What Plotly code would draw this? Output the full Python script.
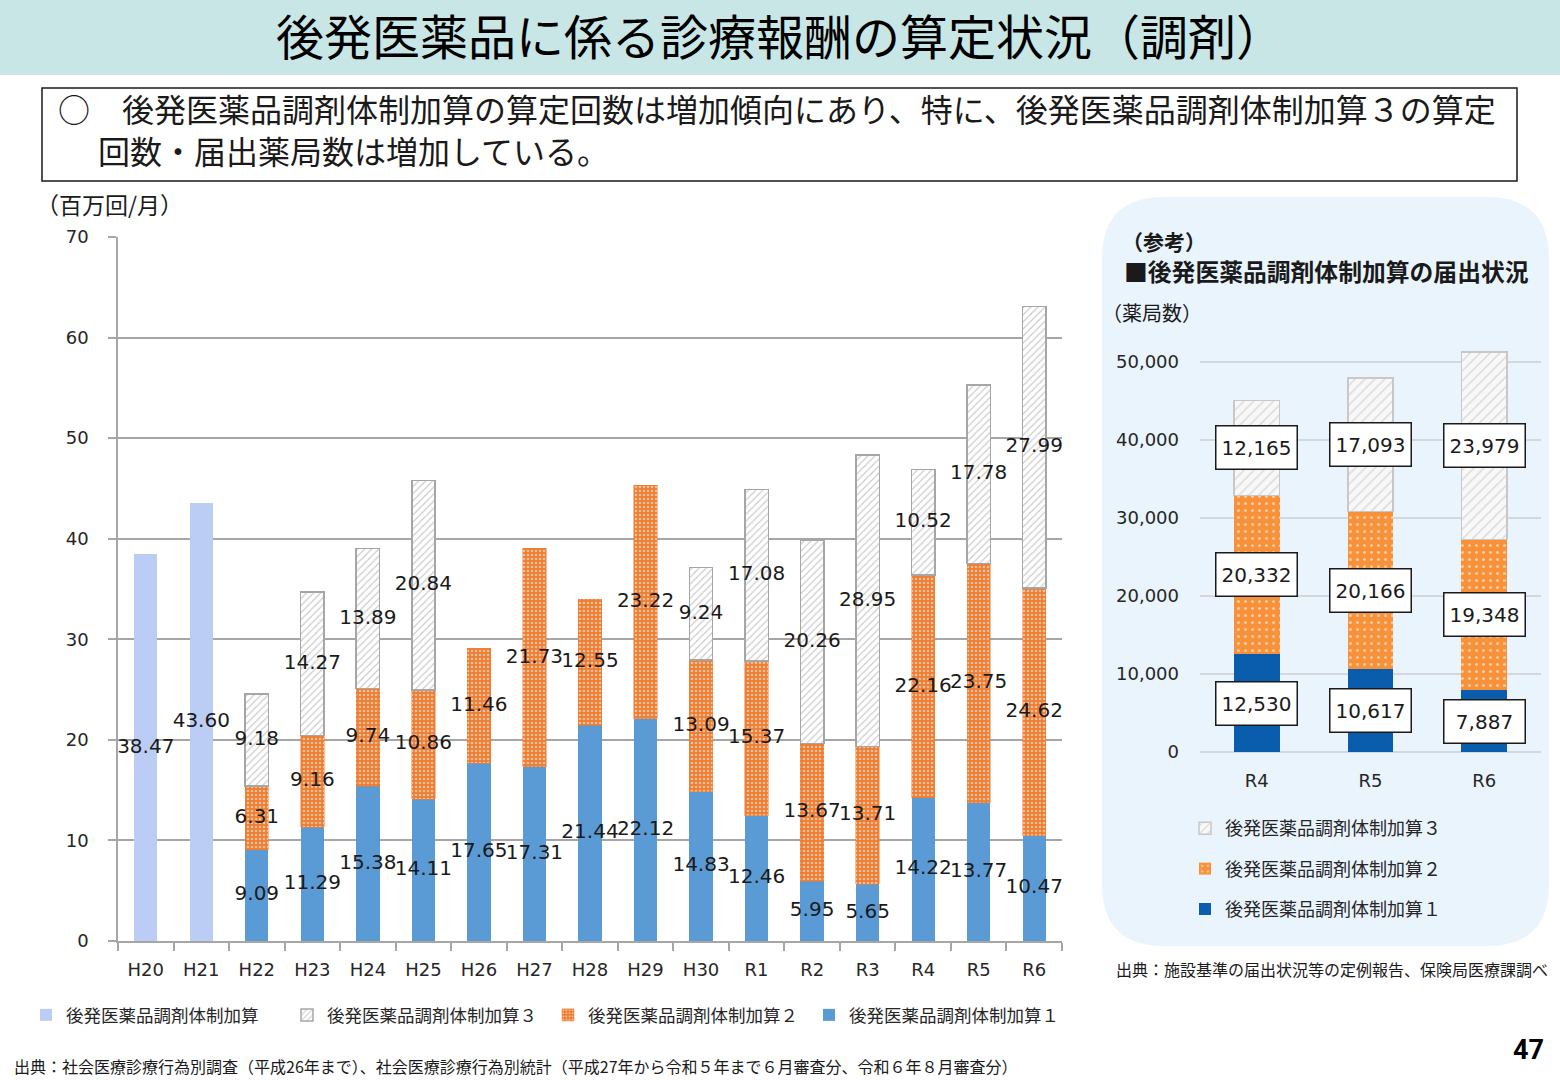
import plotly.graph_objects as go
import numpy as np

# ---------------- data ----------------
categories = ["H20", "H21", "H22", "H23", "H24", "H25", "H26", "H27", "H28",
              "H29", "H30", "R1", "R2", "R3", "R4", "R5", "R6"]
kasan_old = [38.47, 43.60] + [None] * 15
kasan1 = [None, None, 9.09, 11.29, 15.38, 14.11, 17.65, 17.31, 21.44, 22.12,
          14.83, 12.46, 5.95, 5.65, 14.22, 13.77, 10.47]
kasan2 = [None, None, 6.31, 9.16, 9.74, 10.86, 11.46, 21.73, 12.55, 23.22,
          13.09, 15.37, 13.67, 13.71, 22.16, 23.75, 24.62]
kasan3 = [None, None, 9.18, 14.27, 13.89, 20.84, None, None, None, None,
          9.24, 17.08, 20.26, 28.95, 10.52, 17.78, 27.99]

ref_categories = ["R4", "R5", "R6"]
ref1 = [12530, 10617, 7887]
ref2 = [20332, 20166, 19348]
ref3 = [12165, 17093, 23979]

main_yticks = [0, 10, 20, 30, 40, 50, 60, 70]
ref_yticks = [0, 10000, 20000, 30000, 40000, 50000]

name_old = "後発医薬品調剤体制加算"
name1 = "後発医薬品調剤体制加算１"
name2 = "後発医薬品調剤体制加算２"
name3 = "後発医薬品調剤体制加算３"

W, H = 1560, 1080
JP = "Noto Sans CJK JP"
NUM = "DejaVu Sans, Noto Sans CJK JP"


def px_x(x):
    return x / W


def px_y(y):
    return 1 - y / H


def nz(a):
    return np.array([0 if v is None else v for v in a], dtype=float)


fig = go.Figure()

# ---------------- main chart bars ----------------
BW = 0.42
fig.add_trace(go.Bar(x=categories, y=kasan_old, name=name_old, width=BW,
                     marker=dict(color="#bccdf5", line=dict(width=0)),
                     legendrank=1, legend="legend"))
fig.add_trace(go.Bar(x=categories, y=kasan1, name=name1, width=BW,
                     marker=dict(color="#5b9bd5", line=dict(width=0)),
                     legendrank=4, legend="legend"))
fig.add_trace(go.Bar(x=categories, y=kasan2, name=name2, width=BW,
                     marker=dict(color="#ed7d31", line=dict(width=0.5, color="#ed7d31"),
                                 pattern=dict(shape=".", fgcolor="#ffffff", bgcolor="#ed7d31",
                                              size=4, solidity=0.35, fillmode="overlay")),
                     legendrank=3, legend="legend"))
fig.add_trace(go.Bar(x=categories, y=kasan3, name=name3, width=BW,
                     marker=dict(color="#ffffff", line=dict(width=1.5, color="#a6a6a6"),
                                 pattern=dict(shape="/", fgcolor="#9a9a9a", bgcolor="#ffffff",
                                              size=5, solidity=0.25, fillmode="overlay")),
                     legendrank=2, legend="legend"))

# data labels (centred in each segment)
a0, a1, a2, a3 = nz(kasan_old), nz(kasan1), nz(kasan2), nz(kasan3)
lab_x, lab_y, lab_t = [], [], []
for i, c in enumerate(categories):
    if kasan_old[i] is not None:
        lab_x.append(c); lab_y.append(a0[i] / 2); lab_t.append(f"{kasan_old[i]:.2f}")
    if kasan1[i] is not None:
        lab_x.append(c); lab_y.append(a1[i] / 2); lab_t.append(f"{kasan1[i]:.2f}")
    if kasan2[i] is not None:
        lab_x.append(c); lab_y.append(a1[i] + a2[i] / 2); lab_t.append(f"{kasan2[i]:.2f}")
    if kasan3[i] is not None:
        lab_x.append(c); lab_y.append(a1[i] + a2[i] + a3[i] / 2); lab_t.append(f"{kasan3[i]:.2f}")
fig.add_trace(go.Scatter(x=lab_x, y=lab_y, text=lab_t, mode="text", showlegend=False,
                         textfont=dict(family=NUM, size=20, color="#1a1a1a"),
                         cliponaxis=False, hoverinfo="skip"))

# ---------------- reference chart bars ----------------
RBW = 0.4
fig.add_trace(go.Bar(x=ref_categories, y=ref1, name=name1, width=RBW, xaxis="x2", yaxis="y2",
                     marker=dict(color="#0a5cad", line=dict(width=0)),
                     legend="legend2", legendgroup="r1", legendrank=3))
fig.add_trace(go.Bar(x=ref_categories, y=ref2, name=name2, width=RBW, xaxis="x2", yaxis="y2",
                     marker=dict(color="#f7923a", line=dict(width=0),
                                 pattern=dict(shape=".", fgcolor="#ffffff", bgcolor="#f7923a",
                                              size=7, solidity=0.15, fillmode="overlay")),
                     legend="legend2", legendgroup="r2", legendrank=2))
fig.add_trace(go.Bar(x=ref_categories, y=ref3, name=name3, width=RBW, xaxis="x2", yaxis="y2",
                     marker=dict(color="#f4f4f4", line=dict(width=1.5, color="#c8c8c8"),
                                 pattern=dict(shape="/", fgcolor="#b8b8b8", bgcolor="#f8f8f8",
                                              size=7, solidity=0.2, fillmode="overlay")),
                     legend="legend2", legendgroup="r3", legendrank=1))

r1, r2, r3 = np.array(ref1, float), np.array(ref2, float), np.array(ref3, float)
annotations = []
for i, c in enumerate(ref_categories):
    for yv, val in [(r1[i] / 2, ref1[i]), (r1[i] + r2[i] / 2, ref2[i]),
                    (r1[i] + r2[i] + r3[i] / 2, ref3[i])]:
        annotations.append(dict(x=c, y=yv, xref="x2", yref="y2", text=f"{val:,}",
                                showarrow=False, font=dict(family=NUM, size=20, color="#1a1a1a"),
                                bgcolor="#ffffff", bordercolor="#1a1a1a", borderwidth=1.5,
                                borderpad=3, width=74, height=36))

# ---------------- shapes ----------------
shapes = []
# title banner
shapes.append(dict(type="rect", xref="paper", yref="paper", x0=0, x1=1,
                   y0=px_y(75), y1=1, fillcolor="#c9e6e6", line=dict(width=0), layer="below"))
# summary box
shapes.append(dict(type="rect", xref="paper", yref="paper", x0=px_x(42), x1=px_x(1517),
                   y0=px_y(181), y1=px_y(88), fillcolor="rgba(0,0,0,0)",
                   line=dict(color="#1a1a1a", width=1.5)))


# rounded background of the reference panel
def rounded_path(x0, y0, x1, y1, r):
    X = lambda v: f"{px_x(v):.5f}"
    Y = lambda v: f"{px_y(v):.5f}"
    return (f"M {X(x0 + r)} {Y(y0)} L {X(x1 - r)} {Y(y0)} "
            f"Q {X(x1)} {Y(y0)} {X(x1)} {Y(y0 + r)} L {X(x1)} {Y(y1 - r)} "
            f"Q {X(x1)} {Y(y1)} {X(x1 - r)} {Y(y1)} L {X(x0 + r)} {Y(y1)} "
            f"Q {X(x0)} {Y(y1)} {X(x0)} {Y(y1 - r)} L {X(x0)} {Y(y0 + r)} "
            f"Q {X(x0)} {Y(y0)} {X(x0 + r)} {Y(y0)} Z")


shapes.append(dict(type="path", xref="paper", yref="paper",
                   path=rounded_path(1102, 197, 1549, 946, 62),
                   fillcolor="#eaf4fd", line=dict(width=0), layer="below"))

# ---------------- text annotations ----------------
def txt(x, y, s, size, xanchor="left", bold=False, family=JP, color="#1a1a1a", align="left"):
    return dict(x=px_x(x), y=px_y(y), xref="paper", yref="paper", text=(f"<b>{s}</b>" if bold else s),
                showarrow=False, xanchor=xanchor, yanchor="middle", align=align,
                font=dict(family=family, size=size, color=color))


summary = ("○　後発医薬品調剤体制加算の算定回数は増加傾向にあり、特に、後発医薬品調剤体制加算３の算定"
           "<br>\u3000\u2005回数・届出薬局数は増加している。")

annotations += [
    txt(780, 34, "後発医薬品に係る診療報酬の算定状況（調剤）", 48, xanchor="center", color="#000000"),
    txt(56, 129, summary, 32),
    txt(34, 204, "（百万回/月）", 23),
    txt(1120, 241, "（参考）", 21, bold=True),
    txt(1122, 270, "■後発医薬品調剤体制加算の届出状況", 23.8, bold=True),
    txt(1100, 313, "（薬局数）", 20),
    txt(1114, 969, "出典：施設基準の届出状況等の定例報告、保険局医療課調べ", 16),
    txt(12, 1066, "出典：社会医療診療行為別調査（平成26年まで）、社会医療診療行為別統計（平成27年から令和５年まで６月審査分、令和６年８月審査分）", 16),
    txt(1546, 1050, "47", 27, xanchor="right", bold=True, family="Roboto, DejaVu Sans", color="#000000"),
]

# ---------------- layout ----------------
axis_col = "#a6a6a6"
fig.update_layout(
    width=W, height=H, margin=dict(l=0, r=0, t=0, b=0, autoexpand=False),
    paper_bgcolor="#ffffff", plot_bgcolor="rgba(0,0,0,0)",
    barmode="stack", shapes=shapes, annotations=annotations,
    font=dict(family=NUM, color="#1a1a1a"),
    xaxis=dict(domain=[px_x(118), px_x(1062)], type="category", categoryorder="array",
               categoryarray=categories, range=[-0.5, len(categories) - 0.5], autorange=False,
               anchor="y", showline=True, linecolor=axis_col,
               linewidth=1.5, ticks="outside", tickson="boundaries", ticklen=8,
               tickcolor=axis_col, tickwidth=1.5, tickfont=dict(family=NUM, size=18, color="#262626"),
               ticklabelstandoff=12, showgrid=False, fixedrange=True, automargin=False),
    yaxis=dict(domain=[px_y(941), px_y(237)], range=[0, 70], tickvals=main_yticks, anchor="x",
               showgrid=True, gridcolor=axis_col, gridwidth=1.5, showline=True,
               linecolor=axis_col, linewidth=1.5, ticks="outside", ticklen=8, tickcolor=axis_col,
               tickwidth=1.5, zeroline=False, ticklabelstandoff=16, automargin=False,
               tickfont=dict(family=NUM, size=18, color="#262626")),
    xaxis2=dict(domain=[px_x(1200), px_x(1541)], type="category", categoryorder="array",
                categoryarray=ref_categories, range=[-0.5, len(ref_categories) - 0.5],
                autorange=False, anchor="y2", showline=False, ticks="", automargin=False,
                tickfont=dict(family=NUM, size=18, color="#262626"), ticklabelstandoff=16,
                showgrid=False),
    yaxis2=dict(domain=[px_y(752), px_y(346)], range=[0, 52000], tickvals=ref_yticks,
                tickformat=",", anchor="x2", showgrid=True, gridcolor="#d4d8dc", gridwidth=2,
                zeroline=True, zerolinecolor="#d4d8dc", zerolinewidth=2, showline=False,
                ticks="", ticklabelstandoff=20, automargin=False,
                tickfont=dict(family=NUM, size=18, color="#262626")),
    legend=dict(orientation="h", x=px_x(26), y=px_y(1015), xanchor="left", yanchor="middle",
                font=dict(family=JP, size=17.5, color="#262626"), entrywidth=216,
                entrywidthmode="pixels", bgcolor="rgba(0,0,0,0)", traceorder="normal"),
    legend2=dict(orientation="v", x=px_x(1185), y=px_y(810), xanchor="left", yanchor="top",
                 font=dict(family=JP, size=18, color="#262626"), tracegroupgap=14,
                 bgcolor="rgba(0,0,0,0)"),
    showlegend=True,
)

fig.write_html("out.html", config={"displayModeBar": False},
               post_script="document.body.style.margin='0px';document.body.style.overflow='hidden';")
